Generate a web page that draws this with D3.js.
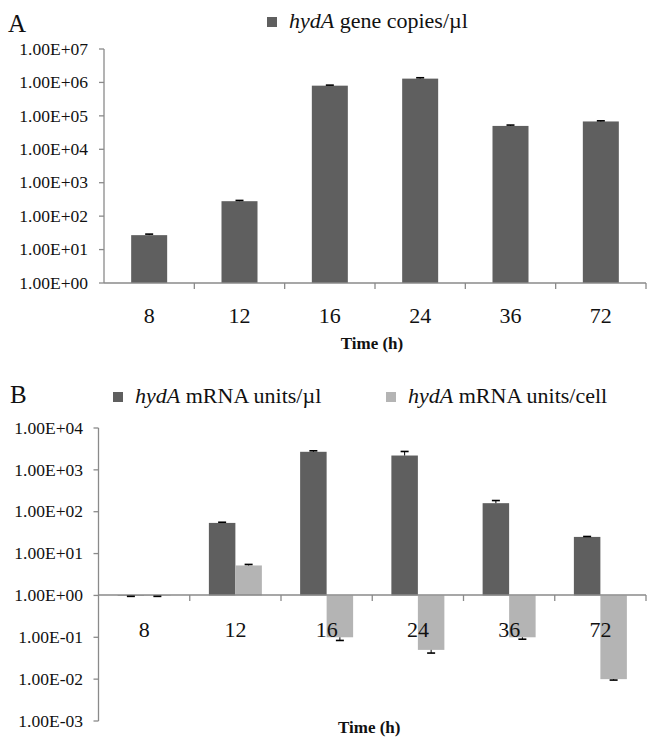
<!DOCTYPE html>
<html><head><meta charset="utf-8">
<script src="https://cdn.jsdelivr.net/npm/d3@7"></script>
<style>body{margin:0;background:#fff}svg{display:block}</style>
</head><body>
<script>
// ---------- data ----------
const categories = ["8","12","16","24","36","72"];
// Panel A
const geneCopies    = [27, 280, 8.0e5, 1.3e6, 5.0e4, 6.8e4];
const geneCopiesErr = [2, 15, 3e4, 8e4, 3e3, 3e3];
const tickLabelsA   = ["1.00E+00","1.00E+01","1.00E+02","1.00E+03","1.00E+04","1.00E+05","1.00E+06","1.00E+07"];
const tickValuesA   = [1,1e1,1e2,1e3,1e4,1e5,1e6,1e7];
// Panel B
const mrnaPerUl     = [0.97, 54, 2700, 2200, 160, 25];
const mrnaPerUlErr  = [0.02, 2, 150, 550, 25, 0.6];
const mrnaPerCell   = [0.97, 5.2, 0.1, 0.05, 0.1, 0.01];
const mrnaPerCellErr= [0.02, 0.3, 0.016, 0.008, 0.01, 0.0005];
const tickLabelsB   = ["1.00E-03","1.00E-02","1.00E-01","1.00E+00","1.00E+01","1.00E+02","1.00E+03","1.00E+04"];
const tickValuesB   = [1e-3,1e-2,1e-1,1,1e1,1e2,1e3,1e4];
const seriesNamesA = ["gene copies/µl"];
const seriesNamesB = ["mRNA units/µl","mRNA units/cell"];

const W=647,H=742;
const FONT="Liberation Serif";
const dark="#5f5f5f", light="#b4b4b4", axisCol="#8a8a8a";
const svg=d3.select("body").append("svg").attr("width",W).attr("height",H);

function txt(g){ return g.append("text").attr("font-family",FONT).attr("fill","#111"); }

function errorBars(g,x,y,vals,errs,xoff){
  vals.forEach((v,i)=>{
    const dir = v>=1?1:-1;
    const e = v+dir*errs[i];
    const cx = x(categories[i])+xoff;
    g.append("line").attr("x1",cx).attr("x2",cx).attr("y1",y(v)).attr("y2",y(e)).attr("stroke","#000").attr("stroke-width",1);
    g.append("line").attr("x1",cx-4).attr("x2",cx+4).attr("y1",y(e)).attr("y2",y(e)).attr("stroke","#000").attr("stroke-width",1.6);
  });
}

function yAxis(g,y,x0,tv,tl,labelX){
  g.append("line").attr("x1",x0).attr("x2",x0).attr("y1",y(tv[tv.length-1])).attr("y2",y(tv[0])).attr("stroke",axisCol).attr("stroke-width",1.3);
  tv.forEach((v,i)=>{
    g.append("line").attr("x1",x0-5).attr("x2",x0).attr("y1",y(v)).attr("y2",y(v)).attr("stroke",axisCol).attr("stroke-width",1.3);
    txt(g).attr("x",labelX).attr("y",y(v)).attr("dy","0.33em").attr("text-anchor","end").attr("font-size",17.5).text(tl[i]);
  });
}
function xAxis(g,x,y0,x0,x1,labelY,titleY){
  g.append("line").attr("x1",x0).attr("x2",x1).attr("y1",y0).attr("y2",y0).attr("stroke",axisCol).attr("stroke-width",1.3);
  categories.forEach((c,i)=>{
    if(i>0) g.append("line").attr("x1",x(c)).attr("x2",x(c)).attr("y1",y0).attr("y2",y0+6).attr("stroke",axisCol).attr("stroke-width",1.3);
    txt(g).attr("x",x(c)+x.bandwidth()/2).attr("y",labelY).attr("text-anchor","middle").attr("font-size",22).text(c);
  });
  g.append("line").attr("x1",x1).attr("x2",x1).attr("y1",y0).attr("y2",y0+6).attr("stroke",axisCol).attr("stroke-width",1.3);
  txt(g).attr("x",(x0+x1)/2-3).attr("y",titleY).attr("text-anchor","middle").attr("font-size",17).attr("font-weight","bold").text("Time (h)");
}
function legendItem(g,sx,sy,col,name){
  g.append("rect").attr("x",sx).attr("y",sy).attr("width",10).attr("height",10).attr("fill",col);
  const t=txt(g).attr("x",sx+22).attr("y",sy+11).attr("font-size",22);
  t.append("tspan").attr("font-style","italic").text("hydA");
  t.append("tspan").text(" "+name);
}

// ---------- Panel A ----------
{
  const g=svg.append("g");
  const x0=104,x1=646;
  const x=d3.scaleBand().domain(categories).range([x0,x1]).paddingInner(0).paddingOuter(0);
  const y=d3.scaleLog().domain([1,1e7]).range([283,49]);
  txt(g).attr("x",8).attr("y",32).attr("font-size",25).text("A");
  legendItem(g,267,17,dark,seriesNamesA[0]);
  const bw=36;
  g.selectAll("rect.a").data(geneCopies).enter().append("rect")
    .attr("x",(d,i)=>x(categories[i])+x.bandwidth()/2-bw/2).attr("width",bw)
    .attr("y",d=>y(d)).attr("height",d=>y(1)-y(d)).attr("fill",dark);
  errorBars(g,x,y,geneCopies,geneCopiesErr,x.bandwidth()/2);
  yAxis(g,y,x0,tickValuesA,tickLabelsA,88);
  xAxis(g,x,283,x0,x1,323,349);
}
// ---------- Panel B ----------
{
  const g=svg.append("g");
  const x0=98.5,x1=646;
  const x=d3.scaleBand().domain(categories).range([x0,x1]);
  const y=d3.scaleLog().domain([1e-3,1e4]).range([721,428]);
  txt(g).attr("x",10).attr("y",403).attr("font-size",25).text("B");
  legendItem(g,113,392,dark,seriesNamesB[0]);
  legendItem(g,386,392,light,seriesNamesB[1]);
  const bw=26.5;
  const off0=x.bandwidth()/2-bw, off1=x.bandwidth()/2;
  [[mrnaPerUl,dark,off0],[mrnaPerCell,light,off1]].forEach(([vals,col,off])=>{
    g.selectAll(null).data(vals).enter().append("rect")
      .attr("x",(d,i)=>x(categories[i])+off).attr("width",bw)
      .attr("y",d=>Math.min(y(d),y(1))).attr("height",d=>Math.abs(y(1)-y(d))).attr("fill",col);
  });
  xAxis(g,x,595,x0,x1,637,733);
  errorBars(g,x,y,mrnaPerUl,mrnaPerUlErr,off0+bw/2);
  errorBars(g,x,y,mrnaPerCell,mrnaPerCellErr,off1+bw/2);
  yAxis(g,y,x0,tickValuesB,tickLabelsB,83);
}
</script>
</body></html>
